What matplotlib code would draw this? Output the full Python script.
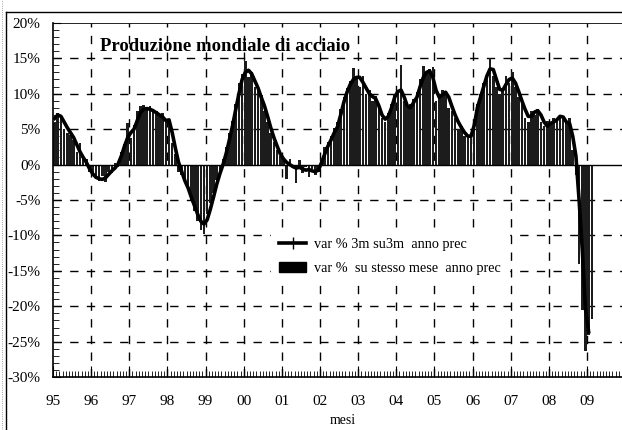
import numpy as np
import matplotlib
matplotlib.use("Agg")
import matplotlib.pyplot as plt
from matplotlib.lines import Line2D
from matplotlib.patches import Patch

# --------------------DATA-------------------- #

startYear = 1995

# var % 3m su 3m anno prec (monthly, Jan 1995 - Jan 2009)
line3m = [
    6.5, 7.0, 6.8, 6.0, 5.2, 4.5, 3.8, 2.8, 1.8, 1.0, 0.3, -0.6,
    -1.3, -1.8, -2.0, -2.1, -1.9, -1.4, -0.9, -0.5, 0.1, 1.2, 2.6, 3.8,
    4.5, 5.0, 6.2, 7.3, 7.8, 7.9, 7.8, 7.6, 7.3, 7.0, 6.7, 6.2,
    6.3, 4.5, 2.3, 0.3, -1.0, -2.3, -3.3, -4.6, -5.8, -7.0, -8.0, -8.4,
    -7.8, -6.3, -4.6, -2.8, -1.3, 0.0, 1.6, 3.5, 5.5, 7.8, 10.0, 12.0,
    13.0, 13.3, 12.8, 11.8, 10.8, 9.5, 8.3, 6.8, 5.2, 3.8, 2.6, 1.5,
    0.8, 0.3, 0.0, -0.3, -0.5, -0.4, -0.6, -0.8, -0.7, -0.9, -1.0, -0.8,
    0.3, 1.5, 2.6, 3.5, 4.5, 5.3, 7.0, 8.8, 10.2, 11.3, 12.0, 12.3,
    12.3, 11.6, 10.8, 10.0, 9.6, 9.3, 8.3, 7.0, 6.4, 6.8, 8.0, 9.5,
    10.3, 10.5, 9.5, 8.2, 8.0, 8.8, 9.5, 11.0, 12.3, 13.0, 13.2, 12.3,
    10.5, 9.5, 9.8, 10.2, 9.5, 8.2, 7.0, 6.0, 5.2, 4.5, 4.0, 4.0,
    5.5, 8.0, 9.5, 11.0, 12.5, 13.5, 13.4, 12.0, 10.6, 10.5, 11.3, 12.0,
    12.2, 11.5, 10.3, 9.0, 7.8, 6.8, 6.8, 7.4, 7.6, 7.0, 6.0, 5.4,
    5.8, 6.0, 6.3, 6.8, 6.7, 6.0, 5.8, 4.0, 1.2, -5.0, -12.0, -20.3,
    -23.6,
]

# var % su stesso mese anno prec (monthly, Jan 1995 - Feb 2009)
barsMonth = [
    5.8, 7.2, 6.9, 5.0, 4.4, 4.1, 3.5, 1.8, 3.0, 1.2, 0.8, -1.0,
    -1.5, -1.8, -2.3, -1.6, -2.4, -1.0, -1.2, 0.2, -0.4, 1.8, 2.9, 5.8,
    3.8, 5.6, 7.6, 8.2, 8.4, 8.0, 8.3, 7.8, 7.6, 7.0, 7.2, 6.3,
    6.0, 3.0, 1.5, -1.0, -1.5, -2.5, -3.6, -5.0, -6.5, -8.0, -9.2, -9.8,
    -7.0, -5.5, -4.0, -2.2, -1.0, 0.8, 2.5, 4.5, 6.2, 8.5, 11.5, 12.8,
    14.6, 12.4, 13.0, 11.0, 10.5, 9.8, 7.5, 6.0, 4.5, 3.2, 2.0, 1.2,
    0.5, -2.0, 0.8, -0.5, -2.6, 0.6, -1.2, -0.3, -1.8, -0.6, -1.5, -1.0,
    0.8, 2.5, 3.2, 4.0, 5.2, 6.0, 7.8, 9.5, 10.8, 11.8, 13.6, 12.0,
    11.0, 12.5, 10.0, 10.5, 9.0, 9.6, 8.0, 6.5, 6.0, 7.2, 8.5, 10.0,
    10.5, 14.0, 9.0, 8.0, 8.5, 9.2, 10.2, 12.0, 13.9, 13.0, 13.5, 13.7,
    9.0, 10.0, 10.5, 9.8, 8.0, 7.5, 6.5, 5.0, 5.5, 4.0, 3.8, 4.2,
    6.0, 8.5, 10.0, 11.5, 12.0, 15.1, 12.5, 11.0, 10.0, 10.8, 12.5, 11.5,
    13.0, 11.0, 9.5, 8.5, 6.5, 6.0, 7.5, 7.0, 7.8, 6.0, 5.5, 6.2,
    5.8, 6.5, 6.6, 6.9, 6.4, 6.0, 6.5, 2.0, -1.5, -14.0, -20.5, -26.3,
    -24.0, -21.8,
]

yearLabels = ["95", "96", "97", "98", "99", "00", "01", "02",
              "03", "04", "05", "06", "07", "08", "09"]
yTickValues = [-30, -25, -20, -15, -10, -5, 0, 5, 10, 15, 20]
yTickLabels = ["-30%", "-25%", "-20%", "-15%", "-10%", "-5%", "0%",
               "5%", "10%", "15%", "20%"]

titleText = "Produzione mondiale di acciaio"
lineLabel = "var % 3m su3m  anno prec"
barLabel = "var %  su stesso mese  anno prec"

# --------------------PLOT-------------------- #

plt.rcParams["font.family"] = ["Liberation Serif", "DejaVu Serif"]

fig = plt.figure(figsize=(6.22, 4.30), dpi=100)
ax = fig.add_axes([0.0852, 0.123, 0.9148, 0.824])

barX = startYear + (np.arange(len(barsMonth)) + 0.5) / 12
lineX = startYear + (np.arange(len(line3m)) + 0.5) / 12

ax.bar(barX, barsMonth, width=0.068, color="#1c1c1c", linewidth=0, zorder=2)
ax.plot(lineX, line3m, color="black", linewidth=2.6, zorder=3)
ax.axhline(0, color="black", linewidth=1.0, zorder=3)

ax.set_xlim(1995, 2009.78)
ax.set_ylim(-30, 20)

yearTicks = startYear + np.arange(len(yearLabels))
ax.set_xticks(yearTicks)
ax.set_xticklabels(yearLabels, fontsize=11)
ax.set_xticks(startYear + np.arange(0, 15 * 12) / 12, minor=True)
ax.set_yticks(yTickValues)
ax.set_yticklabels(yTickLabels, fontsize=11)
ax.set_yticks(np.arange(-30, 21, 1), minor=True)

ax.tick_params(axis="x", which="major", direction="in", length=8, width=0.8, pad=13)
ax.tick_params(axis="y", which="major", direction="in", length=6, width=0.8, pad=9)
ax.tick_params(axis="both", which="minor", direction="in", length=4.5, width=0.6)

# dashed grid at years and every 5%
for yr in yearTicks[1:]:
    ax.axvline(yr, color="black", linewidth=1.0, linestyle=(0, (6, 6)), zorder=1)
for yv in yTickValues[1:-1]:
    if yv != 0:
        ax.axhline(yv, color="black", linewidth=1.0, linestyle=(0, (6, 6)), zorder=1)

for side in ["left", "bottom"]:
    ax.spines[side].set_linewidth(1.2)
ax.spines["top"].set_linewidth(0.6)
ax.spines["right"].set_visible(False)

ax.text(0.083, 0.932, titleText, transform=ax.transAxes, fontsize=13.5,
        fontweight="bold", va="center", ha="left", zorder=5)

handles = [
    Line2D([0], [0], color="black", linewidth=2.6, marker="|", markersize=8),
    Patch(facecolor="black", edgecolor="black"),
]
leg = ax.legend(handles, [lineLabel, barLabel], loc="center left",
                bbox_to_anchor=(0.37, 0.34), fontsize=10.3, frameon=True,
                facecolor="white", edgecolor="white", framealpha=1,
                handlelength=1.9, handletextpad=0.5, labelspacing=0.75,
                borderpad=0.6, fancybox=False)
leg.set_zorder(6)

fig.text(343 / 622, 1 - 421 / 430, "mesi", fontsize=10, ha="center", va="center")

# outer frame of the original picture
fig.add_artist(Line2D([6 / 622, 6 / 622], [0, 1 - 12 / 430], color="black", linewidth=1.0))
fig.add_artist(Line2D([6 / 622, 1], [1 - 12 / 430, 1 - 12 / 430], color="black", linewidth=1.0))
fig.add_artist(Line2D([1.5 / 622, 1.5 / 622], [0, 1], color="gray", linewidth=0.6, linestyle=":"))

fig.savefig("out.png", dpi=100)
